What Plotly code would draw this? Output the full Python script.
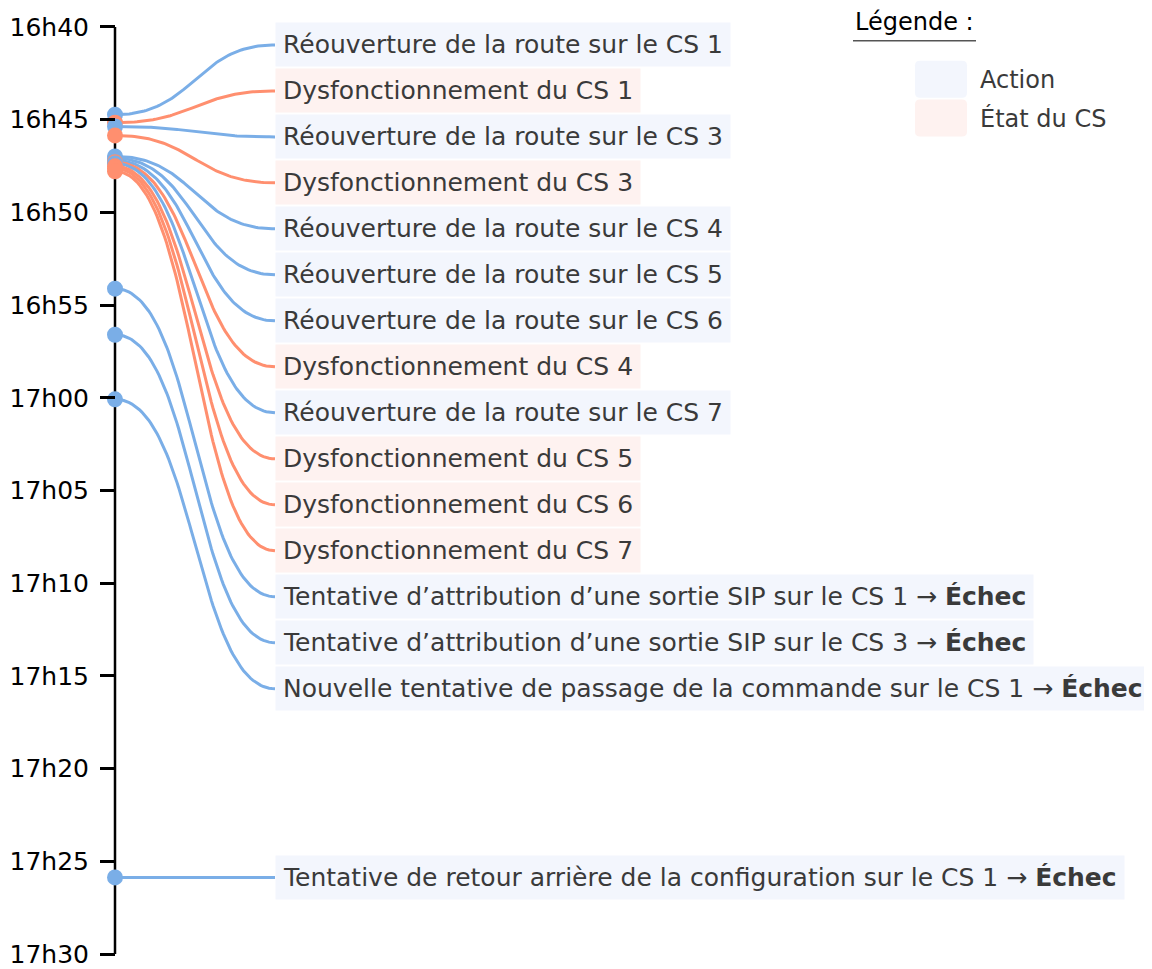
import numpy as np
import plotly.graph_objects as go

# ---------------- data ----------------
event_times = ["16:44:44", "16:45:10", "16:45:22", "16:45:51",
               "16:46:59", "16:47:05", "16:47:12", "16:47:18",
               "16:47:22", "16:47:31", "16:47:38", "16:47:47",
               "16:54:07", "16:56:36", "17:00:05", "17:25:52"]
event_types = ["Action", "État du CS", "Action", "État du CS",
               "Action", "Action", "Action", "État du CS",
               "Action", "État du CS", "État du CS", "État du CS",
               "Action", "Action", "Action", "Action"]
event_labels = [
    "Réouverture de la route sur le CS 1",
    "Dysfonctionnement du CS 1",
    "Réouverture de la route sur le CS 3",
    "Dysfonctionnement du CS 3",
    "Réouverture de la route sur le CS 4",
    "Réouverture de la route sur le CS 5",
    "Réouverture de la route sur le CS 6",
    "Dysfonctionnement du CS 4",
    "Réouverture de la route sur le CS 7",
    "Dysfonctionnement du CS 5",
    "Dysfonctionnement du CS 6",
    "Dysfonctionnement du CS 7",
    "Tentative d’attribution d’une sortie SIP sur le CS 1 → <b>Échec</b>",
    "Tentative d’attribution d’une sortie SIP sur le CS 3 → <b>Échec</b>",
    "Nouvelle tentative de passage de la commande sur le CS 1 → <b>Échec</b>",
    "Tentative de retour arrière de la configuration sur le CS 1 → <b>Échec</b>",
]
tick_values = ["16:40", "16:45", "16:50", "16:55", "17:00", "17:05",
               "17:10", "17:15", "17:20", "17:25", "17:30"]
tick_labels = ["16h40", "16h45", "16h50", "16h55", "17h00", "17h05",
               "17h10", "17h15", "17h20", "17h25", "17h30"]
legend_names = ["Action", "État du CS"]

# ---------------- styling ----------------
LINE_COL = {"Action": "#7aaee7", "État du CS": "#ff8f6f"}
BG_COL = {"Action": "#f3f6fd", "État du CS": "#fef2f0"}
TXT = "#3a3a3a"
FONT = "DejaVu Sans"
FS = 25
OFF = 8                      # page body margin
W, H = 1152 - OFF, 969 - OFF
AXIS_X = 115
LABEL_X = 275
TOP_PX, BOT_PX = 27, 958


def to_min(s):
    p = [int(v) for v in s.split(":")]
    while len(p) < 3:
        p.append(0)
    return p[0] * 60 + p[1] + p[2] / 60.0


t = np.array([to_min(s) for s in event_times])
tv = np.array([to_min(s) for s in tick_values])
t0, t1 = tv[0], tv[-1]
k = (BOT_PX - TOP_PX) / (t1 - t0)  # px per minute
y_top = t0 + (OFF - TOP_PX) / k
y_bot = t0 + (OFF + H - TOP_PX) / k

# label slots: stacked evenly, isolated events keep their own time
first_slot = t0 + 0.97
step = 2.48
idx = np.arange(len(t))
slots = first_slot + idx * step
label_y = np.where(t - slots > 5, t, slots)

fig = go.Figure()

# links
s = np.linspace(0, 1, 80)
xm = (AXIS_X + LABEL_X) / 2
for ti, li, ty in zip(t, label_y, event_types):
    bx = (1 - s) ** 3 * AXIS_X + 3 * (1 - s) ** 2 * s * xm + 3 * (1 - s) * s ** 2 * xm + s ** 3 * LABEL_X
    by = (1 - s) ** 3 * ti + 3 * (1 - s) ** 2 * s * ti + 3 * (1 - s) * s ** 2 * li + s ** 3 * li
    fig.add_trace(go.Scatter(x=bx, y=by, mode="lines",
                             line=dict(color=LINE_COL[ty], width=3),
                             hoverinfo="skip", showlegend=False))

# axis line
fig.add_shape(type="line", x0=AXIS_X, x1=AXIS_X, y0=t0, y1=t1, xref="x", yref="y",
              line=dict(color="black", width=2.5), layer="below")

# dots
fig.add_trace(go.Scatter(x=[AXIS_X] * len(t), y=t, mode="markers",
                         marker=dict(size=16, color=[LINE_COL[e] for e in event_types],
                                     line=dict(width=0)),
                         text=event_labels, hoverinfo="text", showlegend=False,
                         cliponaxis=False))

# labels
for li, lab, ty in zip(label_y, event_labels, event_types):
    fig.add_annotation(x=LABEL_X, y=li, xref="x", yref="y", text=lab,
                       xanchor="left", yanchor="middle", showarrow=False,
                       bgcolor=BG_COL[ty], borderpad=7,
                       font=dict(family=FONT, size=FS, color=TXT))


# legend
def py(px):
    return 1 - (px - OFF) / H


fig.add_annotation(x=853, y=py(22), xref="x", yref="paper", text="Légende :",
                   xanchor="left", yanchor="middle", showarrow=False,
                   font=dict(family=FONT, size=24, color="black"))
fig.add_shape(type="line", x0=853, x1=976, y0=py(41), y1=py(41), xref="x", yref="paper",
              line=dict(color="#555555", width=1.5))


def rrect(x0, x1, y0, y1, r):
    return (f"M {x0 + r},{py(y0)} L {x1 - r},{py(y0)} Q {x1},{py(y0)} {x1},{py(y0 + r)} "
            f"L {x1},{py(y1 - r)} Q {x1},{py(y1)} {x1 - r},{py(y1)} "
            f"L {x0 + r},{py(y1)} Q {x0},{py(y1)} {x0},{py(y1 - r)} "
            f"L {x0},{py(y0 + r)} Q {x0},{py(y0)} {x0 + r},{py(y0)} Z")


for i, name in enumerate(legend_names):
    yt = 61 + i * 39
    fig.add_shape(type="path", path=rrect(915, 967, yt, yt + 37, 5), xref="x", yref="paper",
                  fillcolor=BG_COL[name], line=dict(width=0))
    fig.add_annotation(x=978, y=py(yt + 19), xref="x", yref="paper", text=name,
                       xanchor="left", yanchor="middle", showarrow=False,
                       font=dict(family=FONT, size=24, color=TXT))

fig.update_layout(
    width=W, height=H, margin=dict(l=0, r=0, t=0, b=0),
    plot_bgcolor="white", paper_bgcolor="white", showlegend=False,
    xaxis=dict(range=[OFF, OFF + W], visible=False, fixedrange=True),
    yaxis=dict(range=[y_bot, y_top], anchor="free", position=(AXIS_X - OFF) / W,
               showline=False, showgrid=False, zeroline=False,
               tickmode="array", tickvals=tv, ticktext=tick_labels,
               ticks="outside", ticklen=15, tickwidth=2.5, tickcolor="black",
               ticklabelstandoff=6, ticklabeloverflow="allow",
               tickfont=dict(family=FONT, size=FS, color="black")),
)

fig.write_html("out.html")
